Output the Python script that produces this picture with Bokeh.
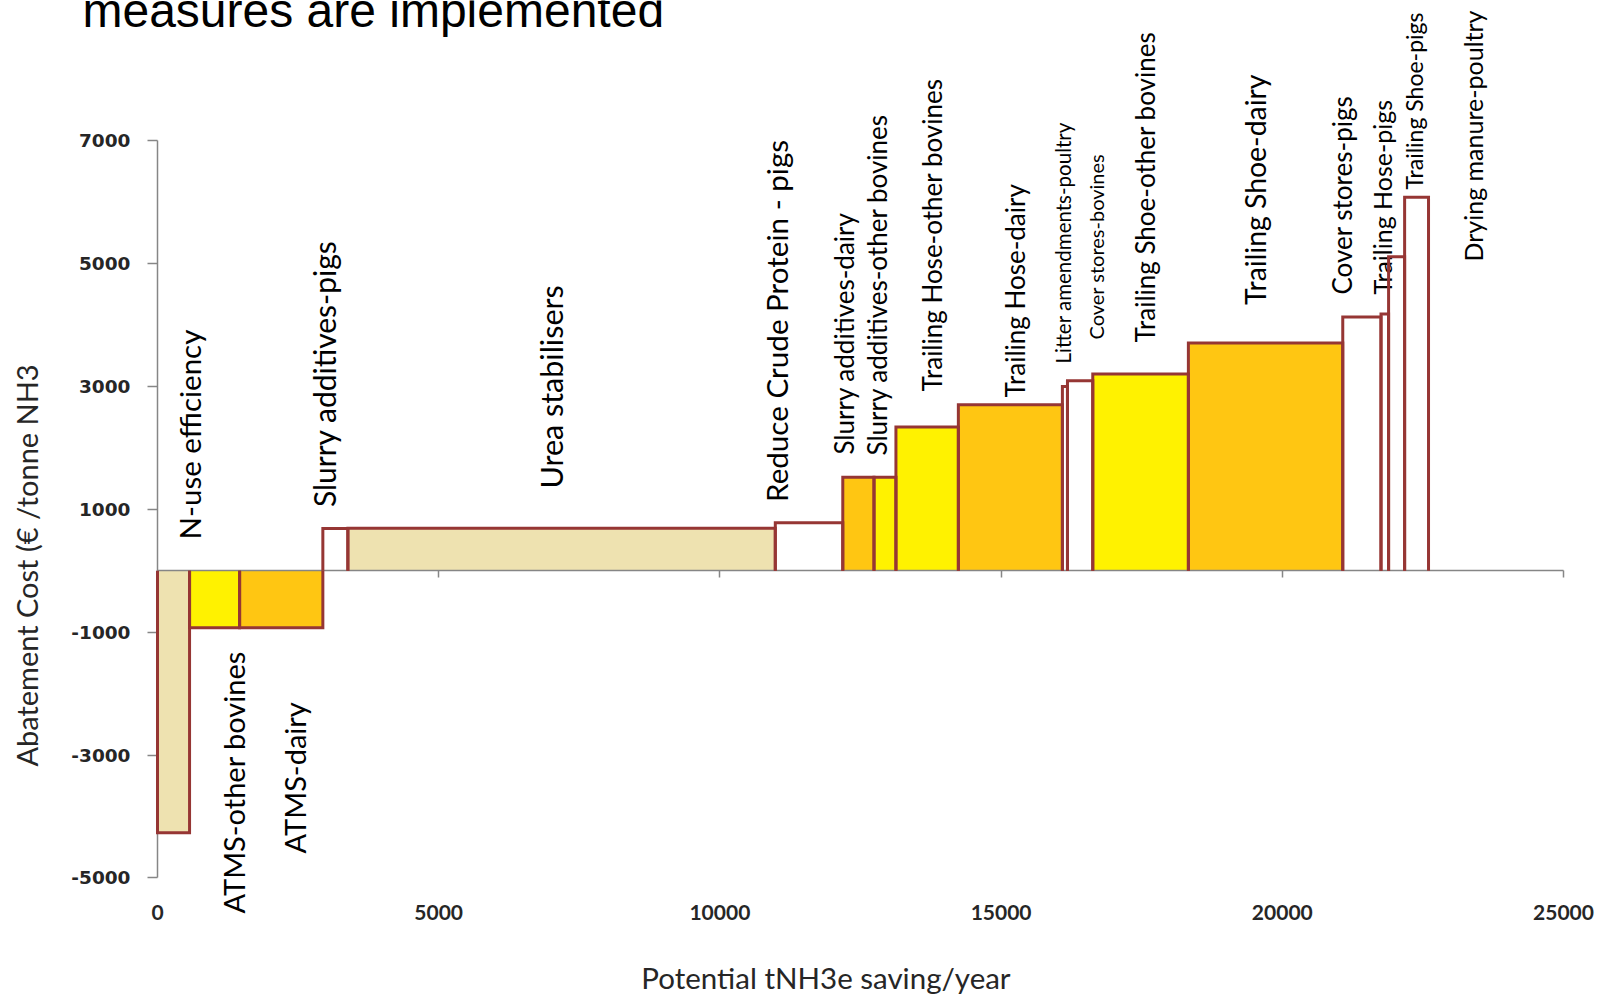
import numpy as np
from bokeh.plotting import figure
from bokeh.models import LinearAxis, FixedTicker, ColumnDataSource, Range1d
from bokeh.core.properties import value
from bokeh.embed import file_html
from bokeh.resources import INLINE

# Ammonia abatement measures, in merit order
measures = [
    "N-use efficiency", "ATMS-other bovines", "ATMS-dairy", "Slurry additives-pigs",
    "Urea stabilisers", "Reduce Crude Protein - pigs", "Slurry additives-dairy",
    "Slurry additives-other bovines", "Trailing Hose-other bovines", "Trailing Hose-dairy",
    "Litter amendments-poultry", "Cover stores-bovines", "Trailing Shoe-other bovines",
    "Trailing Shoe-dairy", "Cover stores-pigs", "Trailing Hose-pigs", "Trailing Shoe-pigs",
    "Drying manure-poultry",
]
# potential saving (t NH3 / year) and abatement cost (EUR / tonne NH3)
saving = [570, 890, 1480, 445, 7600, 1200, 555, 390, 1110, 1850, 90, 450, 1700, 2745, 680, 135, 285, 425]
cost = [-4265, -930, -930, 685, 690, 780, 1520, 1520, 2340, 2700, 3000, 3090, 3200, 3705, 4130, 4180, 5110, 6080]

x_ticks = [0, 5000, 10000, 15000, 20000, 25000]
y_ticks = [-5000, -3000, -1000, 1000, 3000, 5000, 7000]

# styling
BEIGE, YELLOW, ORANGE, WHITE = "#EEE2B0", "#FFF200", "#FFC612", "#FFFFFF"
bar_colors = [BEIGE, YELLOW, ORANGE, WHITE, BEIGE, WHITE, ORANGE, YELLOW, YELLOW, ORANGE,
              WHITE, WHITE, YELLOW, ORANGE, WHITE, WHITE, WHITE, WHITE]
EDGE = "#963634"
AXIS = "#868686"
FONT = "Lato"

# label anchors (bottom end of each vertical label) and sizes
label_x = [564, 1348, 2441, 2969, 7000, 11006, 12198, 12799, 13780, 15256,
           16092, 16679, 17559, 19506, 21070, 21781, 22350, 23393]
label_y = [507, -5580, -4603, 1036, 1337, 1119, 1891, 1875, 2916, 2819,
           3372, 3763, 3714, 4324, 4495, 4495, 6204, 5032]
label_size = ["29.5px", "29px", "29px", "30px", "30.5px", "29.6px", "26px", "26px", "26px", "26px",
              "20.5px", "20px", "26px", "28.4px", "26px", "25px", "23px", "25px"]

right = np.cumsum(saving)
left = right - np.array(saving)
cost_arr = np.array(cost)

bars = ColumnDataSource(dict(
    left=left, right=right,
    bottom=np.minimum(cost_arr, 0), top=np.maximum(cost_arr, 0),
    color=bar_colors, name=measures,
))
edges = ColumnDataSource(dict(
    xs=[[l, l, r, r] for l, r in zip(left, right)],
    ys=[[0, c, c, 0] for c in cost],
))
labels = ColumnDataSource(dict(x=label_x, y=label_y, text=measures, size=label_size))

# data extents of the full canvas
PX_PER_X = 56.24 / 1000.0
PX_PER_Y = 61.44 / 1000.0
X0 = -157 / PX_PER_X
X1 = (1608 - 157) / PX_PER_X
Y1 = 570.2 / PX_PER_Y
Y0 = -(994 - 570.2) / PX_PER_Y

p = figure(width=1608, height=994, x_range=Range1d(X0, X1), y_range=Range1d(Y0, Y1),
           x_axis_type=None, y_axis_type=None, toolbar_location=None, tools="",
           output_backend="svg", min_border=0, min_border_left=0, min_border_right=0,
           min_border_top=0, min_border_bottom=0)
p.outline_line_color = None
p.background_fill_color = "white"
p.border_fill_color = "white"

p.quad(left="left", right="right", bottom="bottom", top="top", source=bars,
       fill_color="color", line_color=None)
p.multi_line(xs="xs", ys="ys", source=edges, line_color=EDGE, line_width=3,
             line_join="miter", level="overlay")

p.text(x="x", y="y", text="text", source=labels, angle=np.pi / 2,
       text_align="left", text_baseline="middle", text_font=value(FONT),
       text_font_size="size", text_color="#000000")

# horizontal axis crossing at zero, its labels shown below the plot
xaxis = LinearAxis(fixed_location=0, bounds=(0, 25000), ticker=FixedTicker(ticks=x_ticks))
xaxis.axis_line_color = AXIS
xaxis.axis_line_width = 1.5
xaxis.major_tick_line_color = AXIS
xaxis.major_tick_line_width = 1.5
xaxis.major_tick_in = 0
xaxis.major_tick_out = 7
xaxis.minor_tick_line_color = None
xaxis.major_label_standoff = 327
xaxis.major_label_text_font = FONT
xaxis.major_label_text_font_style = "bold"
xaxis.major_label_text_font_size = "21px"
xaxis.major_label_text_color = "#262626"
p.add_layout(xaxis, "below")

yaxis = LinearAxis(fixed_location=0, bounds=(-5000, 7000), ticker=FixedTicker(ticks=y_ticks))
yaxis.axis_line_color = AXIS
yaxis.axis_line_width = 1.5
yaxis.major_tick_line_color = AXIS
yaxis.major_tick_line_width = 1.5
yaxis.major_tick_in = 0
yaxis.major_tick_out = 10
yaxis.minor_tick_line_color = None
yaxis.major_label_standoff = 17
yaxis.major_label_overrides = {t: str(t) for t in y_ticks}
yaxis.major_label_text_font = "DejaVu Sans"
yaxis.major_label_text_font_style = "bold"
yaxis.major_label_text_font_size = "18.5px"
yaxis.major_label_text_color = "#262626"
p.add_layout(yaxis, "left")

# axis titles and heading
p.text(x=[11886], y=[-6621], text=["Potential tNH3e saving/year"],
       text_align="center", text_baseline="middle", text_font=value(FONT),
       text_font_size=value("29.5px"), text_color="#262626")
p.text(x=[-2336], y=[85], text=["Abatement Cost (€ /tonne NH3"], angle=np.pi / 2,
       text_align="center", text_baseline="middle", text_font=value(FONT),
       text_font_size=value("29px"), text_color="#262626")
p.text(x=[-1334], y=[9110], text=["measures are implemented"],
       text_align="left", text_baseline="alphabetic", text_font=value("Liberation Sans"),
       text_font_size=value("48px"), text_color="#000000")

open("out.html", "w").write(file_html(p, INLINE))
